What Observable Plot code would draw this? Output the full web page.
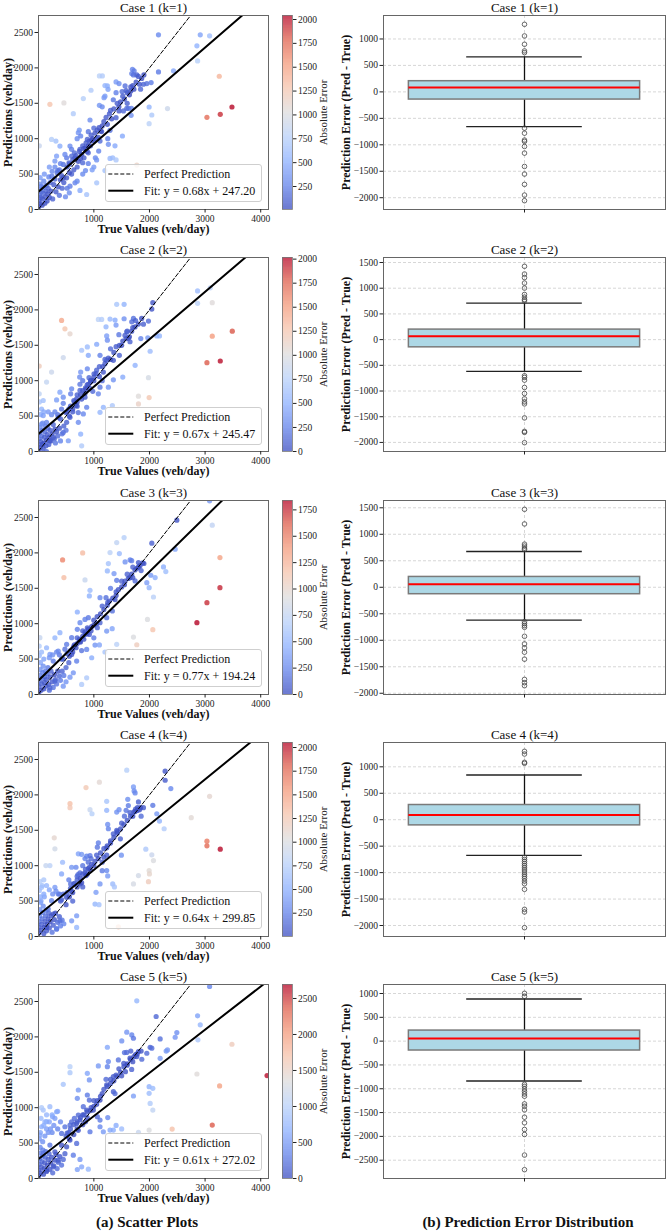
<!DOCTYPE html>
<html><head><meta charset="utf-8">
<script src="https://cdn.jsdelivr.net/npm/d3@7"></script>
<script src="https://cdn.jsdelivr.net/npm/@observablehq/plot@0.6"></script>
<style>
body{margin:0;background:#fff;}
#root{position:relative;width:672px;height:1231px;font-family:"Liberation Serif","Times New Roman",serif;color:#111;overflow:hidden;}
.abs{position:absolute;}
.legend{position:absolute;background:rgba(255,255,255,0.8);border:1px solid #cfcfcf;border-radius:3px;box-sizing:border-box;}
.bottomlab{position:absolute;font-weight:bold;font-size:15px;white-space:nowrap;transform:translate(-50%,-50%);}
</style></head><body><div id="root"></div>
<script>
// ---------------- DATA ----------------
const caseTitles = ["Case 1 (k=1)","Case 2 (k=2)","Case 3 (k=3)","Case 4 (k=4)","Case 5 (k=5)"];
const fitSlope = [0.68, 0.67, 0.77, 0.64, 0.61];
const fitIntercept = [247.20, 245.47, 194.24, 299.85, 272.02];
const xTicks = [1000, 2000, 3000, 4000];
const yTicks = [0, 500, 1000, 1500, 2000, 2500];
const xLimits = [5, 4140];
const yLimits = [0, 2740];
const cbLimits = [[9, 2042], [0, 2017], [0, 1839], [4, 2053], [0, 2694]];
const cbTicks = [
  [250,500,750,1000,1250,1500,1750,2000],
  [0,250,500,750,1000,1250,1500,1750,2000],
  [0,250,500,750,1000,1250,1500,1750],
  [250,500,750,1000,1250,1500,1750,2000],
  [0,500,1000,1500,2000,2500]
];

// [true, predicted] pairs
const scatter1 = [[10,40],[15,120],[20,200],[25,280],[30,360],[35,450],[40,80],[45,170],[55,250],[60,330],[70,60],[75,150],[85,230],[95,310],[100,400],[110,500],[120,90],[130,180],[140,260],[150,340],[160,120],[170,220],[180,300],[190,460],[200,170],[215,380],[230,260],[245,470],[260,150],[280,350],[300,430],[320,250],[340,520],[360,320],[380,200],[400,420],[430,300],[460,380],[490,180],[520,300],
[20,900],[330,755],[300,684],[390,896],[318,967],[240,990],[450,637],[511,731],[480,778],[601,755],[553,660],[661,731],[571,896],[631,1354],[661,377],[751,269],[871,212],[1051,377],[559,236],[571,330],[511,448],[721,1085],[739,1123],[763,1038],[799,660],[823,731],[901,1099],[883,990],[919,967],[931,1264],[1003,967],[1027,731],[1087,825],[1111,967],[1093,1156],[1123,1108],[811,1566],[949,1684],[1100,1472],[1183,1580],[1243,1203],[1291,1118],[1261,920],[1291,722],[1339,731],[1399,1297],[1453,1392],[1532,1392],[1514,1038],[1592,1429],[1622,1429],[1676,1429],[1670,1330],[1664,1731],[1664,1675],[1508,1665],[1562,1745],[1243,1745],[1255,1698],[1399,1802],[1453,1778],[1100,1887],[1153,1887],[1682,1920],[1694,1981],[1724,1958],[1712,1901],[1772,1901],[1820,1769],[1892,1769],[1952,1778],[2030,1792],[2162,1943],[2432,1958],[1994,1448],[2042,1335],[1994,1212],[2324,1425],[2162,2467],[2913,2467],[3081,2453],[2853,2311],[2865,2099],[3255,1882],[3033,1302],[3273,1344],[3483,1448],[210,1486],[462,1505],[1772,627],[2072,519],
[600,850],[650,800],[700,1000],[750,850],[800,900],[850,870],[900,800],[950,1050],[1000,1150],[1050,1000],[1150,1450],[1200,1600],[1300,1400],[1350,1550],[1400,1650],[1450,1450],[1600,1650],[1700,1750],[700,600],[800,500],[900,650],[1000,600],[1200,550],[1400,700],[400,650],[350,550],[450,450],[600,500],[700,400],[850,550],[1250,1000],[1150,1180],[1050,700],[1380,900],[970,560],[1200,1750],[1800,1880],[1840,1700],[1600,1500],[1550,1560],
[520,600],[560,640],[620,700],[680,760],[740,820],[780,780],[820,860],[860,940],[880,820],[940,900],[980,1000],[1020,1080],[1060,1120],[1080,1020],[1140,1100],[1180,1240],[1220,1300],[1280,1350],[1320,1280],[1360,1420],[1420,1500],[1480,1520],[1520,1600],[1580,1680],[1640,1620],[1720,1700],[1760,1800],[1860,1850],[1900,1900],[560,520],[640,560],[720,680],[760,720],[900,900],[960,980],[420,480],[380,560],[300,600],[250,540],[200,600]];

const scatter2 = [[10,20],[15,100],[20,180],[25,260],[35,340],[40,60],[50,140],[60,220],[70,300],[80,400],[90,40],[100,120],[110,200],[120,280],[130,360],[140,80],[150,160],[160,240],[175,330],[190,100],[200,200],[215,300],[230,150],[250,250],[270,380],[290,180],[310,120],[330,280],[350,220],[380,330],[400,150],[430,250],[460,360],[500,300],[20,700],[40,520],[60,600],[100,560],
[2865,2268],[2865,2093],[3093,2311],[3129,2102],[3489,1700],[3129,1629],[3033,1255],[3273,1278],[420,1851],[480,1733],[571,1662],[18,1207],[450,1326],[1802,781],[1994,762],[1802,672],[1982,1042],[2042,2012],[2060,2102],[1411,2079],[1544,2079],[1081,1866],[1141,1866],[1291,1870],[1381,1856],[1544,1875],[1712,1880],[1682,1832],[1892,1799],[1982,1842],[1219,1761],[1399,1785],[1592,1690],[1580,1595],[1640,1619],[1844,1595],[1970,1605],[2132,1633],[2180,1633],[1231,1633],[1243,1572],[1051,1515],[883,1477],[781,1430],[901,1359],[1111,1359],[1231,1288],[1351,1288],[1459,1359],[1742,1217],[2012,1416],[1171,1122],[1003,1098],[913,1042],[943,1004],[763,1122],[745,1051],[883,1169],[1351,1013],[1520,1051],[1111,909],[1081,814],[1261,909],[601,885],[751,862],[841,767],[583,814],[691,743],[390,838],[450,767],[330,729],[150,980],[240,1122],[18,814],[90,720],[1111,554],[1171,625],[1333,649],[871,625],[811,530],[721,412],[763,246],[781,80],[571,483],[511,412],[450,270],[300,317],[360,483],[90,507],[150,412],[60,388],[210,152],[78,104],[150,0],[270,199],[541,152],
[650,700],[700,800],[750,950],[800,1000],[850,900],[900,950],[950,1000],[1000,1050],[620,600],[680,650],[720,550],[550,600],[500,550],[420,600],[1600,1700],[1700,1750],[1750,1850],[1650,1550],[1500,1500],[1450,1650],[1300,1450],[1200,1300],[1100,1200],[1050,1150],[980,850],[1150,1000],
[520,560],[580,640],[640,720],[700,700],[760,800],[800,860],[840,820],[880,940],[940,980],[1000,1000],[1040,1100],[1100,1060],[1160,1200],[1200,1240],[1260,1320],[1300,1300],[1360,1400],[1400,1480],[1460,1500],[1520,1560],[1560,1640],[1620,1600],[1680,1700],[1740,1760],[1800,1800],[1860,1880],[560,500],[620,560],[700,640],[780,740],[860,880],[920,900],[400,460],[350,520],[300,560],[240,520],[180,560],[450,680]];

const scatter3 = [[10,30],[15,110],[20,190],[25,270],[35,350],[40,450],[50,60],[60,150],[70,230],[80,310],[90,400],[100,80],[110,170],[120,250],[130,330],[140,120],[150,210],[160,290],[175,380],[190,140],[200,60],[215,250],[230,330],[250,180],[270,100],[290,280],[310,210],[330,150],[350,330],[380,260],[400,200],[430,330],[460,270],[500,180],[20,550],[60,600],[100,500],
[3081,2736],[3129,2392],[2492,2462],[2462,2052],[2042,2137],[2252,1802],[2294,1736],[3267,1934],[3267,1509],[3033,1297],[2853,1014],[438,1901],[799,2000],[462,1651],[1964,1061],[2060,915],[1712,811],[1772,703],[1411,2146],[1544,2217],[1291,2005],[1459,1991],[1562,1873],[1652,1901],[1680,1890],[1261,1849],[1243,1745],[1363,1708],[1411,1613],[931,1472],[919,1392],[841,1618],[1742,1604],[1700,1651],[1772,1783],[1802,1863],[1830,1820],[1952,1580],[2024,1684],[2102,1651],[1994,1509],[2072,1377],[1111,1368],[1219,1368],[1381,1340],[1333,1179],[1231,1085],[1111,1014],[1063,943],[901,1085],[841,1061],[751,1014],[703,920],[883,943],[919,849],[1021,698],[1231,896],[1330,930],[703,1165],[871,637],[961,519],[601,802],[511,708],[390,873],[300,800],[210,566],[270,472],[360,613],[150,660],[30,802],[18,684],[601,566],[691,472],[780,620],[631,307],[571,245],[871,236],[781,142],[300,189],[210,94],[450,118],[1411,708],
[650,700],[700,800],[750,750],[800,900],[850,850],[950,900],[1000,1050],[1050,1000],[1150,1250],[1250,1300],[1300,1500],[1400,1450],[1500,1600],[1550,1550],[1600,1700],[1650,1650],[1700,1800],[1850,1750],[1900,1850],[550,450],[450,500],[500,380],[620,650],[1100,700],[1200,600],[1000,800],
[520,580],[580,620],[640,680],[700,720],[740,780],[800,820],[840,880],[900,920],[960,960],[1000,980],[1060,1100],[1120,1140],[1180,1200],[1240,1260],[1280,1320],[1340,1360],[1400,1400],[1440,1480],[1500,1520],[1560,1600],[1620,1640],[1680,1700],[1740,1760],[1800,1800],[1880,1860],[560,540],[620,600],[680,660],[760,740],[820,780],[880,860],[420,500],[380,560],[330,600],[260,560],[200,520],[480,640]];

const scatter4 = [[10,50],[15,130],[20,210],[25,290],[30,380],[40,480],[50,90],[60,170],[70,250],[80,340],[90,430],[100,40],[110,130],[120,210],[130,290],[140,370],[150,80],[160,170],[175,250],[190,330],[200,120],[215,210],[230,290],[250,60],[270,160],[290,240],[310,330],[330,110],[350,200],[380,280],[400,150],[430,230],[460,180],[20,650],[40,560],[70,720],[110,560],
[2282,2335],[2282,2207],[2384,2089],[1592,2349],[1100,2179],[859,2103],[571,1876],[571,1819],[300,1238],[288,1394],[3081,1980],[2751,1678],[3033,1347],[3033,1281],[3273,1234],[1934,1234],[2042,1153],[2072,1073],[1994,931],[2000,884],[1982,775],[1802,860],[1712,742],[1441,137],[931,1791],[967,1734],[1712,2112],[1724,2056],[1742,2028],[1610,1938],[1802,1900],[1620,1850],[1231,1909],[1231,1782],[1411,1758],[1453,1791],[1580,1782],[1742,1767],[1784,1819],[1820,1791],[1892,1819],[2060,1852],[2132,1734],[2180,1630],[2264,1522],[1249,1583],[1261,1522],[1411,1498],[1420,1480],[1081,1323],[1063,1262],[1477,1380],[1231,1252],[1231,1148],[1180,1120],[1495,1148],[721,1167],[780,1160],[871,1134],[931,1144],[841,1100],[679,978],[601,978],[715,874],[919,978],[883,884],[751,742],[583,742],[420,884],[210,1002],[138,1002],[438,1049],[30,775],[60,695],[1231,931],[1150,930],[1249,855],[1111,742],[1339,742],[1039,624],[1370,700],[1021,458],[1093,449],[300,695],[360,600],[511,553],[600,640],[240,506],[180,388],[270,317],[691,293],[601,222],[691,128],[390,222],[330,104],[150,128],
[650,750],[700,850],[750,900],[800,1000],[850,950],[900,1050],[950,1100],[1000,1000],[1050,1150],[1150,1050],[1300,1350],[1350,1450],[1500,1600],[1550,1700],[1650,1750],[1700,1700],[1750,1800],[1850,1700],[500,450],[450,600],[400,500],[550,800],[620,500],[800,700],[100,600],[50,500],
[520,620],[580,680],[640,740],[700,800],[760,820],[800,880],[840,900],[900,960],[960,1020],[1020,1060],[1080,1100],[1120,1180],[1180,1240],[1240,1280],[1300,1320],[1360,1400],[1420,1460],[1480,1520],[1540,1580],[1600,1640],[1660,1700],[1720,1760],[1780,1780],[1840,1820],[560,560],[620,620],[700,700],[780,760],[860,860],[940,940],[420,520],[380,600],[320,640],[260,600],[200,660],[150,720],[100,800]];

const scatter5 = [[10,40],[15,120],[20,200],[25,280],[30,360],[35,440],[45,80],[55,160],[65,240],[75,320],[85,400],[95,60],[105,140],[115,220],[125,300],[135,380],[150,100],[165,190],[180,270],[195,350],[210,130],[225,220],[240,300],[260,80],[280,180],[300,260],[320,340],[340,140],[360,230],[390,310],[420,190],[450,270],[480,350],[20,560],[40,650],[80,520],[120,600],
[3081,2712],[1772,2509],[2120,2288],[2865,2297],[2913,2170],[2871,1958],[2492,2061],[2462,1995],[2324,1816],[2300,1800],[2192,1972],[2192,1698],[3483,1896],[2853,1476],[3261,1307],[3129,755],[2408,698],[1994,684],[1802,651],[4114,1453],[1994,1297],[2060,1274],[1994,1203],[2012,1061],[2060,967],[571,1580],[571,1495],[450,1330],[1592,2066],[1682,2028],[1712,1981],[1664,1800],[1502,1943],[1550,1778],[1590,1780],[1243,1854],[1261,1651],[1243,1580],[1081,1590],[883,1486],[919,1392],[1399,1462],[1441,1675],[1351,1439],[1802,1792],[1772,1722],[1862,1684],[1952,1769],[2012,1854],[2042,1840],[1538,1627],[1568,1509],[1680,1540],[1219,1401],[1231,1321],[1351,1226],[1380,1200],[1712,1165],[721,1250],[703,1132],[883,1179],[919,1108],[811,1014],[871,967],[721,896],[750,830],[1111,1108],[991,967],[1063,873],[1111,825],[1250,860],[691,778],[571,755],[480,731],[420,637],[330,943],[210,1014],[90,967],[258,873],[150,802],[60,731],[30,613],[1111,731],[1171,660],[1351,684],[931,660],[571,542],[691,495],[511,448],[420,470],[210,472],[300,377],[90,354],[631,330],[751,269],[781,165],[703,127],[901,132],[360,259],[270,165],[150,118],[1291,684],
[600,800],[650,850],[700,700],[800,900],[850,800],[950,1000],[1000,1100],[1050,1050],[1150,1200],[1300,1400],[1450,1550],[1500,1450],[1600,1600],[1650,1700],[1700,1650],[1750,1750],[1850,1800],[500,600],[550,650],[400,800],[350,700],[250,650],[150,700],[50,850],[1500,700],[1400,750],
[520,640],[580,700],[640,760],[700,800],[760,860],[820,900],[880,940],[940,960],[1000,1020],[1060,1100],[1120,1160],[1180,1260],[1240,1300],[1300,1340],[1360,1380],[1420,1440],[1480,1500],[1540,1580],[1600,1620],[1660,1680],[1720,1720],[1780,1760],[560,560],[640,620],[720,680],[800,760],[880,860],[200,800],[250,900],[300,850],[100,750],[150,900],[60,1000],[350,950],[280,750],[180,650],[120,800],[220,700]];
const scatterSets = [scatter1, scatter2, scatter3, scatter4, scatter5];

// Box plot statistics of Pred - True
const boxQ1 = [-145, -150, -131, -107, -197];
const boxMedian = [81, 65, 56, 89, 54];
const boxQ3 = [202, 195, 195, 278, 222];
const whiskerLow = [-655, -619, -619, -674, -837];
const whiskerHigh = [660, 709, 675, 845, 885];
const outliers1 = [1277, 1057, 900, 774, 742, -685, -780, -911, -935, -1031, -1157, -1409, -1553, -1748, -1950, -2056];
const outliers2 = [1426, 1276, 1205, 1100, 1002, 879, 826, 781, 752, -703, -736, -788, -931, -1048, -1152, -1211, -1250, -1523, -1785, -1805, -2005];
const outliers3 = [1471, 1195, 814, 777, 739, 712, -650, -687, -725, -756, -925, -1069, -1144, -1225, -1357, -1738, -1800, -1857];
const outliers4 = [1293, 1242, 1085, 1066, -712, -750, -790, -830, -870, -910, -950, -990, -1030, -1070, -1110, -1160, -1210, -1316, -1694, -1744, -2041];
const outliers5 = [1004, 940, -907, -948, -1004, -1053, -1109, -1157, -1318, -1367, -1443, -1597, -1715, -1855, -1960, -2392, -2699];
const outlierSets = [outliers1, outliers2, outliers3, outliers4, outliers5];
const boxTicks = [
  [-2000,-1500,-1000,-500,0,500,1000],
  [-2000,-1500,-1000,-500,0,500,1000,1500],
  [-2000,-1500,-1000,-500,0,500,1000,1500],
  [-2000,-1500,-1000,-500,0,500,1000],
  [-2500,-2000,-1500,-1000,-500,0,500,1000]
];

// ---------------- STYLE ----------------
const FONT = '"Liberation Serif","Times New Roman",serif';
const coolwarmStops = ["#3b4cc0","#6282ea","#8db0fe","#b8d0f9","#dddcdc","#f5c4ad","#f49a7b","#de604d","#b40426"];
const coolwarm = d3.piecewise(d3.interpolateRgb, coolwarmStops);
const coolwarmFn = t => coolwarm(t);
const coolwarmFaded = t => d3.interpolateRgb("#ffffff", coolwarm(t))(0.75);
const baseStyle = {fontFamily: FONT, fontSize: "9.5px", color: "#222", background: "transparent", overflow: "visible"};
const fmt = d3.format("d");

const root = document.getElementById("root");
function place(node, left, top, w, h) {
  const div = document.createElement("div");
  div.className = "abs";
  div.style.left = left + "px"; div.style.top = top + "px";
  div.style.width = w + "px"; div.style.height = h + "px";
  div.appendChild(node);
  root.appendChild(div);
}

const SVG_H = 244, M_TOP = 15, M_BOT = 35;
const rowTop = i => 15 + 242.25 * i;

function scatterPlot(i) {
  const data = scatterSets[i].map(([t, p]) => ({t, p, e: Math.abs(p - t)}));
  const a = fitSlope[i], b = fitIntercept[i];
  return Plot.plot({
    width: 272, height: SVG_H, marginLeft: 38, marginRight: 4, marginTop: M_TOP, marginBottom: M_BOT,
    style: baseStyle,
    x: {domain: xLimits},
    y: {domain: yLimits},
    color: {type: "linear", domain: cbLimits[i], interpolate: coolwarmFn, clamp: true},
    marks: [
      Plot.dot(data, {x: "t", y: "p", r: 2.6, fill: "e", fillOpacity: 0.8, clip: true}),
      Plot.line(xLimits, {x: d => d, y: d => d, stroke: "#000", strokeWidth: 1, strokeDasharray: "4,2", clip: true}),
      Plot.line(xLimits, {x: d => d, y: d => a * d + b, stroke: "#000", strokeWidth: 2, clip: true}),
      Plot.frame({stroke: "#666", strokeWidth: 1}),
      Plot.axisX({ticks: xTicks, tickSize: 3.5, tickPadding: 2, tickFormat: fmt, label: null}),
      Plot.axisY({ticks: yTicks, tickSize: 3.5, tickPadding: 2, tickFormat: fmt, label: null}),
      Plot.text([caseTitles[i]], {frameAnchor: "top", dy: -8, fontSize: 13, textAnchor: "middle", lineAnchor: "middle", fill: "#111"}),
      Plot.text(["True Values (veh/day)"], {frameAnchor: "bottom", dy: 20, fontSize: 12, fontWeight: "bold", textAnchor: "middle", lineAnchor: "middle", fill: "#111"}),
      Plot.text(["Predictions (veh/day)"], {frameAnchor: "left", dx: -30, rotate: -90, fontSize: 12, fontWeight: "bold", textAnchor: "middle", lineAnchor: "middle", fill: "#111"})
    ]
  });
}

function colorbar(i) {
  const [d0, d1] = cbLimits[i];
  const n = 160, step = (d1 - d0) / n;
  const steps = d3.range(n).map(k => ({a: d0 + step * k, b: Math.min(d1, d0 + step * (k + 1.6))}));
  return Plot.plot({
    width: 60, height: SVG_H, marginLeft: 4, marginRight: 46, marginTop: M_TOP, marginBottom: M_BOT,
    style: baseStyle,
    x: {domain: [0, 1], axis: null},
    y: {domain: [d0, d1]},
    color: {type: "linear", domain: [d0, d1], interpolate: coolwarmFaded},
    marks: [
      Plot.rect(steps, {x1: 0, x2: 1, y1: "a", y2: "b", fill: d => d.a + step / 2}),
      Plot.frame({stroke: "#777", strokeWidth: 0.8}),
      Plot.axisY({anchor: "right", ticks: cbTicks[i], tickSize: 3.5, tickPadding: 2, tickFormat: fmt, label: null}),
      Plot.text(["Absolute Error"], {frameAnchor: "right", dx: 31, rotate: -90, fontSize: 11, textAnchor: "middle", lineAnchor: "middle", fill: "#222"})
    ]
  });
}

function boxPlot(i) {
  const outs = outlierSets[i];
  const all = [...outs, whiskerLow[i], whiskerHigh[i]];
  const lo = d3.min(all), hi = d3.max(all), pad = (hi - lo) * 0.05;
  return Plot.plot({
    width: 332, height: SVG_H, marginLeft: 43, marginRight: 7, marginTop: M_TOP, marginBottom: M_BOT,
    style: baseStyle,
    x: {domain: [-0.5, 0.5]},
    y: {domain: [lo - pad, hi + pad]},
    marks: [
      Plot.gridY(boxTicks[i], {stroke: "#b8b8b8", strokeOpacity: 0.8, strokeWidth: 0.7, strokeDasharray: "3,2"}),
      Plot.gridX([0], {stroke: "#b8b8b8", strokeOpacity: 0.8, strokeWidth: 0.7, strokeDasharray: "3,2"}),
      Plot.ruleX([0], {y1: whiskerLow[i], y2: boxQ1[i], stroke: "#111", strokeWidth: 1.3}),
      Plot.ruleX([0], {y1: boxQ3[i], y2: whiskerHigh[i], stroke: "#111", strokeWidth: 1.3}),
      Plot.rect([0], {x1: -0.41, x2: 0.41, y1: boxQ1[i], y2: boxQ3[i], fill: "#add8e6", stroke: "#7a7a7a", strokeWidth: 1.5}),
      Plot.ruleY([boxMedian[i]], {x1: -0.41, x2: 0.41, stroke: "#ff0000", strokeWidth: 2}),
      Plot.ruleY([whiskerLow[i], whiskerHigh[i]], {x1: -0.205, x2: 0.205, stroke: "#222", strokeWidth: 1.3}),
      Plot.dot(outs, {x: 0, y: d => d, r: 2.3, stroke: "#444", strokeWidth: 0.8, fill: "none"}),
      Plot.frame({stroke: "#666", strokeWidth: 1}),
      Plot.axisY({ticks: boxTicks[i], tickSize: 3.5, tickPadding: 2, tickFormat: fmt, label: null}),
      Plot.axisX({ticks: [0], tickSize: 3.5, tickFormat: () => "", label: null}),
      Plot.text([caseTitles[i]], {frameAnchor: "top", dy: -8, fontSize: 13, textAnchor: "middle", lineAnchor: "middle", fill: "#111"}),
      Plot.text(["Prediction Error (Pred - True)"], {frameAnchor: "left", dx: -37, rotate: -90, fontSize: 12, fontWeight: "bold", textAnchor: "middle", lineAnchor: "middle", fill: "#111"})
    ]
  });
}

function legend(i) {
  const ns = "http://www.w3.org/2000/svg";
  const div = document.createElement("div");
  div.className = "legend";
  const W = 157, H = 38;
  div.style.width = W + "px"; div.style.height = H + "px";
  div.style.left = (38.3 + 66.7) + "px";
  div.style.top = (rowTop(i) + 149.3) + "px";
  const svg = document.createElementNS(ns, "svg");
  svg.setAttribute("width", W); svg.setAttribute("height", H);
  svg.style.position = "absolute"; svg.style.left = "-1px"; svg.style.top = "-1px";
  const items = [
    {label: "Perfect Prediction", dash: "4,2", w: 1, y: 10},
    {label: `Fit: y = ${fitSlope[i].toFixed(2)}x + ${fitIntercept[i].toFixed(2)}`, dash: null, w: 2, y: 26.7}
  ];
  for (const it of items) {
    const ln = document.createElementNS(ns, "line");
    ln.setAttribute("x1", 3.3); ln.setAttribute("x2", 28.3);
    ln.setAttribute("y1", it.y); ln.setAttribute("y2", it.y);
    ln.setAttribute("stroke", "#000"); ln.setAttribute("stroke-width", it.w);
    if (it.dash) ln.setAttribute("stroke-dasharray", it.dash);
    svg.appendChild(ln);
    const tx = document.createElementNS(ns, "text");
    tx.setAttribute("x", 39); tx.setAttribute("y", it.y + 4.2);
    tx.setAttribute("font-size", 12); tx.setAttribute("font-family", FONT);
    tx.setAttribute("fill", "#111");
    tx.textContent = it.label;
    svg.appendChild(tx);
  }
  div.appendChild(svg);
  root.appendChild(div);
}

for (let i = 0; i < 5; i++) {
  const top = rowTop(i) - M_TOP;
  place(scatterPlot(i), 0, top, 272, SVG_H);
  place(colorbar(i), 278, top, 60, SVG_H);
  place(boxPlot(i), 340, top, 332, SVG_H);
  legend(i);
}

const bottomLabels = ["(a) Scatter Plots", "(b) Prediction Error Distribution"];
const bottomX = [147, 528];
bottomLabels.forEach((t, k) => {
  const d = document.createElement("div");
  d.className = "bottomlab";
  d.style.left = bottomX[k] + "px";
  d.style.top = "1222px";
  d.textContent = t;
  root.appendChild(d);
});
</script></body></html>
